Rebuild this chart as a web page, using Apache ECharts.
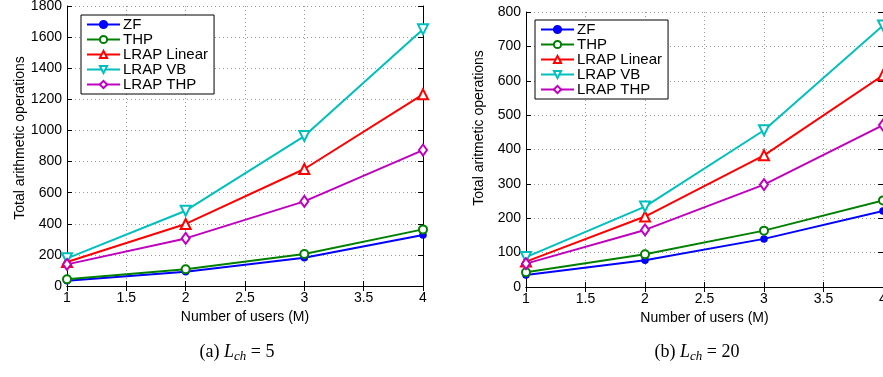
<!DOCTYPE html>
<html><head><meta charset="utf-8">
<script src="https://cdn.jsdelivr.net/npm/echarts@6/dist/echarts.min.js"></script>
<style>html,body{margin:0;padding:0;background:#fff}#c{width:883px;height:377px}</style>
</head><body><div id="c"></div>
<script>
const users = [1, 2, 3, 4];
const seriesNames = ['ZF', 'THP', 'LRAP Linear', 'LRAP VB', 'LRAP THP'];
// (a) L_ch = 5
const zfA = [34, 92, 182, 328];
const thpA = [43, 107, 206, 364];
const linA = [154, 399, 752, 1232];
const vbA = [178, 484, 964, 1650];
const lthpA = [139, 306, 544, 874];
// (b) L_ch = 20
const zfB = [35, 78, 140, 221];
const thpB = [43, 95, 164, 252];
const linB = [74, 205, 383, 616];
const vbB = [87, 234, 456, 761];
const lthpB = [68, 166, 298, 471];
const yTicksA = {min: 0, max: 1800, interval: 200};
const yTicksB = {min: 0, max: 800, interval: 100};
const xTicks = {min: 1, max: 4, interval: 0.5};

const colors = ['#0000ff', '#008000', '#ff0000', '#00bfbf', '#bf00bf'];
const symbols = ['circle', 'emptyCircle', 'emptyTriangle', 'emptyTriangle', 'emptyDiamond'];
const sizes = [6, 8, 10, 10, [8, 11]];
const rots = [0, 0, 0, 180, 0];
const FONT = 'Liberation Sans';

const chart = echarts.init(document.getElementById('c'), null, {renderer: 'canvas'});
function pts(arr) { return users.map((u, i) => [u, arr[i]]); }
function mkSeries(data, gi) {
  return data.map((d, i) => ({
    name: seriesNames[i], type: 'line', xAxisIndex: gi, yAxisIndex: gi,
    data: pts(d), color: colors[i], symbol: symbols[i], symbolSize: sizes[i], symbolRotate: rots[i],
    showAllSymbol: true, lineStyle: {width: 2, color: colors[i]},
    itemStyle: {color: colors[i], borderColor: colors[i], borderWidth: 1.5},
    animation: false, z: 3 + i
  }));
}
const axLine = {show: true, lineStyle: {color: '#000', width: 1}};
const tick = {show: true, inside: true, length: 5, lineStyle: {color: '#000'}};
const split = {show: true, lineStyle: {color: '#999', type: [1, 3], width: 1}};
const lbl = {color: '#000', fontSize: 14, fontFamily: FONT, margin: 5, formatter: v => String(v)};
function xMain(gi) {
  return Object.assign({type: 'value', gridIndex: gi, position: 'bottom', axisLine: axLine, axisTick: tick,
    splitLine: split, axisLabel: lbl, name: 'Number of users (M)', nameLocation: 'middle', nameGap: 20,
    nameTextStyle: {color: '#000', fontSize: 14, fontFamily: FONT}}, xTicks);
}
function xTop(gi) {
  return Object.assign({type: 'value', gridIndex: gi, position: 'top', axisLine: axLine, axisTick: tick,
    splitLine: {show: false}, axisLabel: {show: false}}, xTicks);
}
function yMain(gi, t) {
  return Object.assign({type: 'value', gridIndex: gi, position: 'left', axisLine: axLine, axisTick: tick,
    splitLine: split, axisLabel: lbl}, t);
}
function yRight(gi, t) {
  return Object.assign({type: 'value', gridIndex: gi, position: 'right', axisLine: axLine, axisTick: tick,
    splitLine: {show: false}, axisLabel: {show: false}}, t);
}
function legend(left, top) {
  return {data: seriesNames, orient: 'vertical', left: left, top: top, itemWidth: 33, itemHeight: 9, itemGap: 0,
    backgroundColor: '#fff', borderColor: '#000', borderWidth: 1, borderRadius: 0, padding: [2, 6, 2, 5],
    selectedMode: false, textStyle: {color: '#000', fontSize: 15, fontFamily: FONT, lineHeight: 15, padding: [0, 0, 0, -2]}};
}
const capRich = {
  n: {fontFamily: 'Liberation Serif', fontSize: 18, color: '#000'},
  i: {fontFamily: 'Liberation Serif', fontStyle: 'italic', fontSize: 18, color: '#000'},
  s: {fontFamily: 'Liberation Serif', fontStyle: 'italic', fontSize: 13, color: '#000', padding: [9, 0, 0, 0]}
};
chart.setOption({
  animation: false,
  backgroundColor: '#fff',
  grid: [
    {left: 67, right: 460, top: 6, bottom: 91, outerBoundsMode: 'none', containLabel: false},
    {left: 526, right: 0, top: 12, bottom: 90, outerBoundsMode: 'none', containLabel: false}
  ],
  xAxis: [xMain(0), xMain(1), xTop(0), xTop(1)],
  yAxis: [yMain(0, yTicksA), yMain(1, yTicksB), yRight(0, yTicksA), yRight(1, yTicksB)],
  legend: [legend(81, 15), legend(535, 20)],
  series: mkSeries([zfA, thpA, linA, vbA, lthpA], 0).concat(mkSeries([zfB, thpB, linB, vbB, lthpB], 1)),
  graphic: [
    {type: 'text', x: 20, y: 138, rotation: Math.PI / 2, style: {text: 'Total arithmetic operations', fill: '#000',
      font: '14px "' + FONT + '"', textAlign: 'center', textVerticalAlign: 'middle'}},
    {type: 'text', x: 479, y: 128, rotation: Math.PI / 2, style: {text: 'Total aritmetic operations', fill: '#000',
      font: '14px "' + FONT + '"', textAlign: 'center', textVerticalAlign: 'middle'}},
    {type: 'text', x: 237, y: 352, style: {text: '{n|(a) }{i|L}{s|ch}{n| = 5}', rich: capRich, textAlign: 'center', textVerticalAlign: 'middle'}},
    {type: 'text', x: 697, y: 352, style: {text: '{n|(b) }{i|L}{s|ch}{n| = 20}', rich: capRich, textAlign: 'center', textVerticalAlign: 'middle'}}
  ]
});
</script></body></html>
